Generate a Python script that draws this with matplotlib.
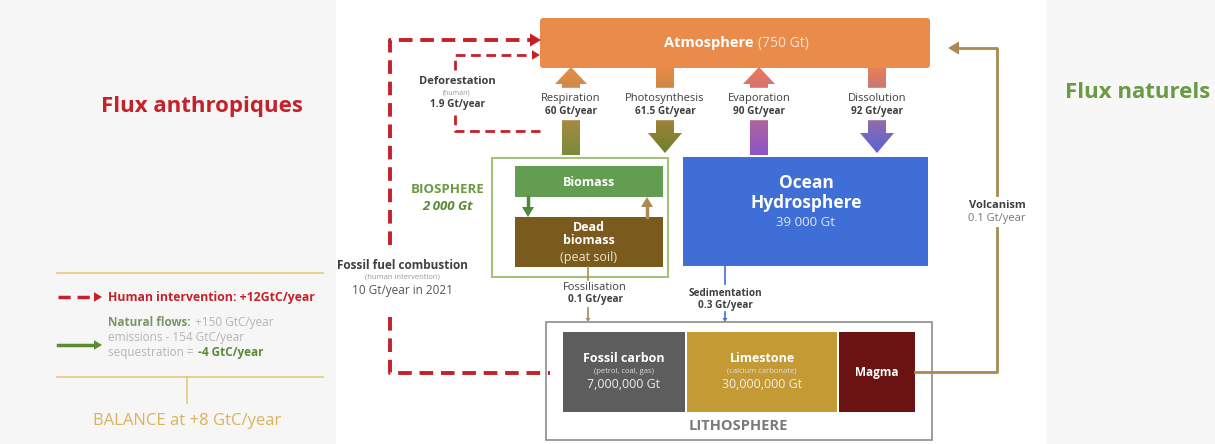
import numpy as np
import matplotlib.pyplot as plt
from matplotlib.patches import Rectangle, FancyBboxPatch, Polygon
from matplotlib.colors import LinearSegmentedColormap

plt.rcParams['font.family'] = ['Open Sans', 'DejaVu Sans']

# values shown on the diagram
atmosphere_gt = 750
biosphere_gt = '2 000'
ocean_gt = '39 000'
flux_names = ['Respiration', 'Photosynthesis', 'Evaporation', 'Dissolution']
flux_values = [60, 61.5, 90, 92]
deforestation = 1.9
fossil_combustion = 10
fossilisation = 0.1
sedimentation = 0.3
volcanism = 0.1
lith_names = ['Fossil carbon', 'Limestone', 'Magma']
lith_notes = ['(petrol, coal, gas)', '(calcium carbonate)', '']
lith_values = ['7,000,000 Gt', '30,000,000 Gt', '']
human_total = 12
natural_emis = 150
natural_seq = 154
balance = 8

RED = '#c4212b'
GREEN = '#6a9a44'
ORANGE = '#e98b4b'
BLUE = '#3f6fd6'
TAN = '#a98b52'
DARK = '#3f3f3f'
GREY = '#8c8c8c'

fig = plt.figure(figsize=(12.15, 4.44), dpi=100)
ax = fig.add_axes([0, 0, 1, 1])


def tri(x, y, d, size, color, z=4):
    # small arrow head with tip at (x, y)
    if d == 'right':
        pts = [(x, y), (x - size, y - size * 0.6), (x - size, y + size * 0.6)]
    elif d == 'left':
        pts = [(x, y), (x + size, y - size * 0.6), (x + size, y + size * 0.6)]
    elif d == 'up':
        pts = [(x, y), (x - size * 0.6, y + size), (x + size * 0.6, y + size)]
    else:
        pts = [(x, y), (x - size * 0.6, y - size), (x + size * 0.6, y - size)]
    ax.add_patch(Polygon(pts, closed=True, color=color, lw=0, zorder=z))


def grad_arrow(x, y_top, y_bot, up, c_top, c_bot, sw, hw, hh, gap):
    if up:
        pts = [(x - sw / 2, y_bot), (x - sw / 2, y_top + hh), (x - hw / 2, y_top + hh),
               (x, y_top), (x + hw / 2, y_top + hh), (x + sw / 2, y_top + hh), (x + sw / 2, y_bot)]
    else:
        pts = [(x - sw / 2, y_top), (x - sw / 2, y_bot - hh), (x - hw / 2, y_bot - hh),
               (x, y_bot), (x + hw / 2, y_bot - hh), (x + sw / 2, y_bot - hh), (x + sw / 2, y_top)]
    poly = Polygon(pts, closed=True, fc='none', ec='none')
    ax.add_patch(poly)
    cmap = LinearSegmentedColormap.from_list('g', [c_top, c_bot])
    img = ax.imshow(np.linspace(0, 1, 200).reshape(-1, 1), cmap=cmap, aspect='auto',
                    extent=(x - hw / 2, x + hw / 2, y_bot, y_top), origin='upper', zorder=2)
    img.set_clip_path(poly)
    ax.add_patch(Rectangle((x - hw, gap[0]), 2 * hw, gap[1] - gap[0], color='white', zorder=3))


def after(txt, s, **kw):
    # put a second piece of text right after an existing one
    return ax.annotate(s, xy=(1, 0.5), xycoords=txt, xytext=(3, 0), textcoords='offset points',
                       ha='left', va='center', **kw)


# side panels
ax.add_patch(Rectangle((0, 0), 335, 444, color='#f6f6f6', zorder=0))
ax.add_patch(Rectangle((1047, 0), 168, 444, color='#f7f7f7', zorder=0))

ax.text(202, 106, 'Flux anthropiques', color=RED, fontsize=16, fontweight='bold', ha='center', va='center')
ax.text(1138, 92, 'Flux naturels', color=GREEN, fontsize=16, fontweight='bold', ha='center', va='center')

# atmosphere
ax.add_patch(FancyBboxPatch((540, 18), 390, 50, boxstyle='round,pad=0,rounding_size=3',
                            fc=ORANGE, ec='none', zorder=2))
t = ax.text(754, 43, 'Atmosphere', color='white', fontsize=10.5, fontweight='bold', ha='right', va='center',
            zorder=5)
after(t, f'({atmosphere_gt} Gt)', color='#fbe3d2', fontsize=10, zorder=5)

# exchange arrows
flux_x = [571, 665, 759, 877]
flux_up = [True, False, True, False]
flux_bottom = ['#7a8b3a', '#6f7f2e', '#8a55c8', '#5a62d8']
flux_top = [ORANGE, ORANGE, '#ec7b55', '#ea7f55']
for x, up, cb, ct, name, val in zip(flux_x, flux_up, flux_bottom, flux_top, flux_names, flux_values):
    if up:
        grad_arrow(x, 67, 155, True, ct, cb, 18, 32, 17, (88, 119))
    else:
        grad_arrow(x, 68, 153, False, ct, cb, 18, 34, 20, (88, 119))
    ax.text(x, 98, name, color=DARK, fontsize=8, ha='center', va='center', zorder=5)
    ax.text(x, 111, f'{val} Gt/year', color=DARK, fontsize=7.2, fontweight='bold', ha='center', va='center', zorder=5)

# biosphere
ax.add_patch(Rectangle((492, 158), 176, 119, fc='none', ec='#a3c27a', lw=1.5, zorder=2))
ax.add_patch(Rectangle((515, 166), 148, 31, fc='#629d51', ec='none', zorder=2))
ax.add_patch(Rectangle((515, 217), 148, 50, fc='#7b5a1e', ec='none', zorder=2))
ax.text(589, 182, 'Biomass', color='white', fontsize=9, fontweight='bold', ha='center', va='center')
ax.text(589, 234, 'Dead\nbiomass', color='white', fontsize=9, fontweight='bold', ha='center', va='center',
        linespacing=1.05)
ax.text(589, 257, '(peat soil)', color='#f0e6d0', fontsize=9, ha='center', va='center')
ax.plot([528, 528], [197, 208], color='#4f8a3c', lw=2.5, zorder=3)
tri(528, 217, 'down', 10, '#4f8a3c')
ax.plot([647, 647], [207, 217], color=TAN, lw=2.5, zorder=3)
tri(647, 197, 'up', 10, TAN)
ax.text(448, 189, 'BIOSPHERE', color=GREEN, fontsize=9.5, fontweight='bold', ha='center', va='center')
ax.text(448, 206, f'{biosphere_gt} Gt', color='#5a8a36', fontsize=9.5, fontweight='bold', style='italic',
        ha='center', va='center')

# ocean
ax.add_patch(Rectangle((683, 157), 245, 109, fc=BLUE, ec='none', zorder=2))
ax.text(806, 183, 'Ocean', color='white', fontsize=12.5, fontweight='bold', ha='center', va='center')
ax.text(806, 203, 'Hydrosphere', color='white', fontsize=12.5, fontweight='bold', ha='center', va='center')
ax.text(806, 222, f'{ocean_gt} Gt', color='#dde6fb', fontsize=9.5, ha='center', va='center')

# deforestation (dashed red)
dash = (0, (3.5, 2))
ax.plot([455, 455, 532], [70, 55, 55], color=RED, lw=2, ls=dash, zorder=3)
tri(540, 55, 'right', 8, RED)
ax.plot([455, 455, 540], [115, 131, 131], color=RED, lw=2, ls=dash, zorder=3)
ax.text(457, 82, 'Deforestation', color=DARK, fontsize=8, fontweight='bold', ha='center', va='center')
ax.text(457, 93, '(human)', color='#999999', fontsize=5, ha='center', va='center')
ax.text(457, 104, f'{deforestation} Gt/year', color=DARK, fontsize=7.2, fontweight='bold', ha='center', va='center')

# fossil fuel combustion (dashed red)
ax.plot([390, 390, 530], [245, 40, 40], color=RED, lw=2.8, ls=dash, zorder=3)
tri(541, 40, 'right', 11, RED)
ax.plot([390, 390, 550], [317, 373, 373], color=RED, lw=2.8, ls=dash, zorder=3)
ax.text(402, 265, 'Fossil fuel combustion', color=DARK, fontsize=8.5, fontweight='bold', ha='center', va='center')
ax.text(402, 277, '(human intervention)', color='#999999', fontsize=5.5, ha='center', va='center')
ax.text(402, 290, f'{fossil_combustion} Gt/year in 2021', color='#555555', fontsize=8.5, ha='center', va='center')

# fossilisation / sedimentation
ax.plot([588, 588], [267, 280], color=TAN, lw=1.2, zorder=3)
ax.plot([588, 588], [308, 318], color=TAN, lw=1.2, zorder=3)
tri(588, 322, 'down', 4, TAN)
ax.text(595, 287, 'Fossilisation', color=DARK, fontsize=8, ha='center', va='center')
ax.text(595, 299, f'{fossilisation} Gt/year', color=DARK, fontsize=7.2, fontweight='bold', ha='center', va='center')
ax.plot([725, 725], [266, 284], color=BLUE, lw=1.2, zorder=3)
ax.plot([725, 725], [312, 318], color=BLUE, lw=1.2, zorder=3)
tri(725, 322, 'down', 4, BLUE)
ax.text(725, 293, 'Sedimentation', color=DARK, fontsize=7.2, fontweight='bold', ha='center', va='center')
ax.text(725, 305, f'{sedimentation} Gt/year', color=DARK, fontsize=7.2, fontweight='bold', ha='center', va='center')

# lithosphere
ax.add_patch(Rectangle((546, 322), 386, 118, fc='none', ec=GREY, lw=1.2, zorder=2))
lith_x = [563, 687, 839]
lith_w = [122, 150, 76]
lith_c = ['#5d5d5d', '#c49a35', '#6b1212']
for x, w, c, name, note, val in zip(lith_x, lith_w, lith_c, lith_names, lith_notes, lith_values):
    ax.add_patch(Rectangle((x, 332), w, 80, fc=c, ec='none', zorder=2))
    cx = x + w / 2
    if note:
        ax.text(cx, 358, name, color='white', fontsize=9, fontweight='bold', ha='center', va='center')
        ax.text(cx, 371, note, color='#dddddd', fontsize=5.5, ha='center', va='center')
        ax.text(cx, 384, val, color='#eeeeee', fontsize=9, ha='center', va='center')
    else:
        ax.text(cx, 372, name, color='white', fontsize=8.5, fontweight='bold', ha='center', va='center')
ax.text(738, 426, 'LITHOSPHERE', color='#7a7a7a', fontsize=10.5, fontweight='bold', ha='center', va='center')

# volcanism
ax.plot([915, 997, 997], [372, 372, 228], color=TAN, lw=2, zorder=3)
ax.plot([997, 997, 958], [195, 48, 48], color=TAN, lw=2, zorder=3)
tri(948, 48, 'left', 11, TAN)
ax.text(997, 205, 'Volcanism', color=DARK, fontsize=8, fontweight='bold', ha='center', va='center')
ax.text(997, 218, f'{volcanism} Gt/year', color='#777777', fontsize=8, ha='center', va='center')

# legend / balance
ax.plot([57, 323], [273, 273], color='#e3c97e', lw=1.2)
ax.plot([57, 323], [377, 377], color='#e3c97e', lw=1.2)
ax.plot([187, 187], [377, 403], color='#e3c97e', lw=1.2)
ax.plot([58, 94], [297, 297], color=RED, lw=2.5, ls=dash)
tri(102, 297, 'right', 8, RED)
ax.text(108, 297, f'Human intervention: +{human_total}GtC/year', color=RED, fontsize=8.8, fontweight='bold',
        ha='left', va='center')
ax.plot([58, 94], [345, 345], color='#5a8a36', lw=2.5)
tri(102, 345, 'right', 8, '#5a8a36')
t = ax.text(108, 322, 'Natural flows:', color='#7d9468', fontsize=8.5, fontweight='bold', ha='left', va='center')
after(t, f'+{natural_emis} GtC/year', color='#b5b5b5', fontsize=8.5)
ax.text(108, 337, f'emissions - {natural_seq} GtC/year', color='#b5b5b5', fontsize=8.5, ha='left', va='center')
t = ax.text(108, 352, 'sequestration =', color='#b5b5b5', fontsize=8.5, ha='left', va='center')
after(t, f'-{natural_seq - natural_emis} GtC/year', color='#5a8a36', fontsize=8.5, fontweight='bold')
ax.text(187, 421, f'BALANCE at +{balance} GtC/year', color='#d7b35e', fontsize=12, ha='center', va='center')

ax.set_xlim(0, 1215)
ax.set_ylim(444, 0)
ax.axis('off')
plt.savefig('out.png', dpi=100)
